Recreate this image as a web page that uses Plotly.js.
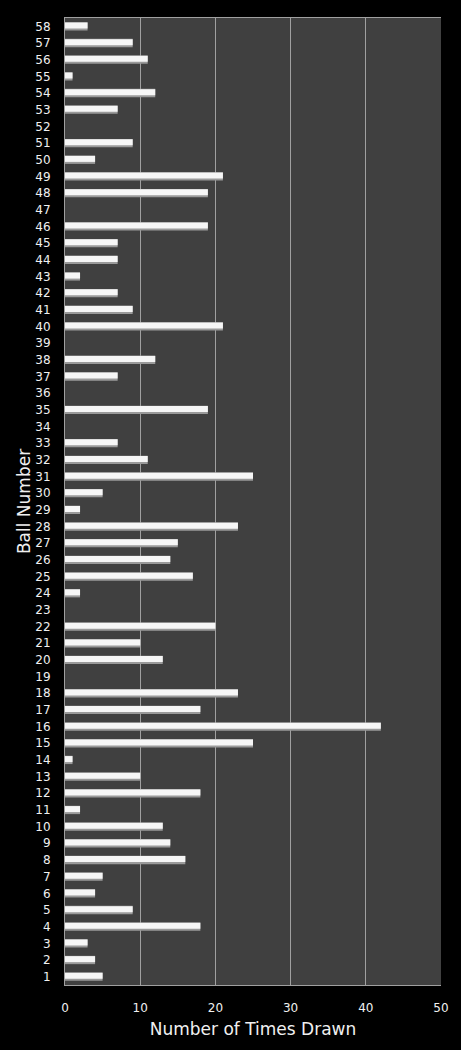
<!DOCTYPE html>
<html>
<head>
<meta charset="utf-8">
<script src="https://cdn.plot.ly/plotly-3.0.1.min.js"></script>
<style>
  html, body { margin: 0; padding: 0; background: #000; }
  #chart { width: 461px; height: 1050px; }
</style>
</head>
<body>
<div id="chart"></div>
<script>
// ball numbers 1..58 and how often each was drawn
const balls = [
  1, 2, 3, 4, 5, 6, 7, 8, 9, 10,
  11, 12, 13, 14, 15, 16, 17, 18, 19, 20,
  21, 22, 23, 24, 25, 26, 27, 28, 29, 30,
  31, 32, 33, 34, 35, 36, 37, 38, 39, 40,
  41, 42, 43, 44, 45, 46, 47, 48, 49, 50,
  51, 52, 53, 54, 55, 56, 57, 58
]
const timesDrawn = [
  5, 4, 3, 18, 9, 4, 5, 16, 14, 13,
  2, 18, 10, 1, 25, 42, 18, 23, 0, 13,
  10, 20, 0, 2, 17, 14, 15, 23, 2, 5,
  25, 11, 7, 0, 19, 0, 7, 12, 0, 21,
  9, 7, 2, 7, 7, 19, 0, 19, 21, 4,
  9, 0, 7, 12, 1, 11, 9, 3
]
const xTicks = [0, 10, 20, 30, 40, 50]

let chart = document.getElementById('chart')

// two bars laid over each other give the shaded cylinder look
let shadow = {
  type: 'bar',
  orientation: 'h',
  x: timesDrawn,
  y: balls,
  width: 0.5,
  offset: -0.25,
  marker: { color: '#9a9a9a', line: { width: 0 } },
  hoverinfo: 'x+y'
}
let shine = {
  type: 'bar',
  orientation: 'h',
  x: timesDrawn,
  y: balls,
  width: 0.36,
  offset: -0.13,
  marker: { color: '#f6f6f6', line: { width: 0 } },
  hoverinfo: 'skip'
}

Plotly.newPlot(chart, [shadow, shine], {
  width: 461,
  height: 1050,
  barmode: 'overlay',
  showlegend: false,
  paper_bgcolor: '#000000',
  plot_bgcolor: '#404040',
  margin: { l: 65, r: 20, t: 18, b: 65 },
  font: { family: 'DejaVu Sans, Verdana, sans-serif', color: '#f0f0f0', size: 12 },
  xaxis: {
    range: [0, 50],
    tickvals: xTicks,
    ticktext: xTicks.map(String),
    showgrid: true,
    gridcolor: '#a0a0a0',
    gridwidth: 1,
    zeroline: false,
    showline: true,
    linecolor: '#a0a0a0',
    mirror: true,
    ticks: '',
    ticklabelstandoff: 12,
    tickfont: { size: 12, color: '#f0f0f0' },
    title: { text: 'Number of Times Drawn', font: { size: 17, color: '#f0f0f0' }, standoff: 8 }
  },
  yaxis: {
    range: [0.5, 58.5],
    tickvals: balls,
    ticktext: balls.map(String),
    showgrid: false,
    zeroline: false,
    showline: true,
    linecolor: '#a0a0a0',
    ticks: '',
    ticklabelstandoff: 11,
    tickfont: { size: 12, color: '#f0f0f0' },
    title: { text: 'Ball Number', font: { size: 17, color: '#f0f0f0' }, standoff: 0 }
  }
}, { displayModeBar: false })
</script>
</body>
</html>
